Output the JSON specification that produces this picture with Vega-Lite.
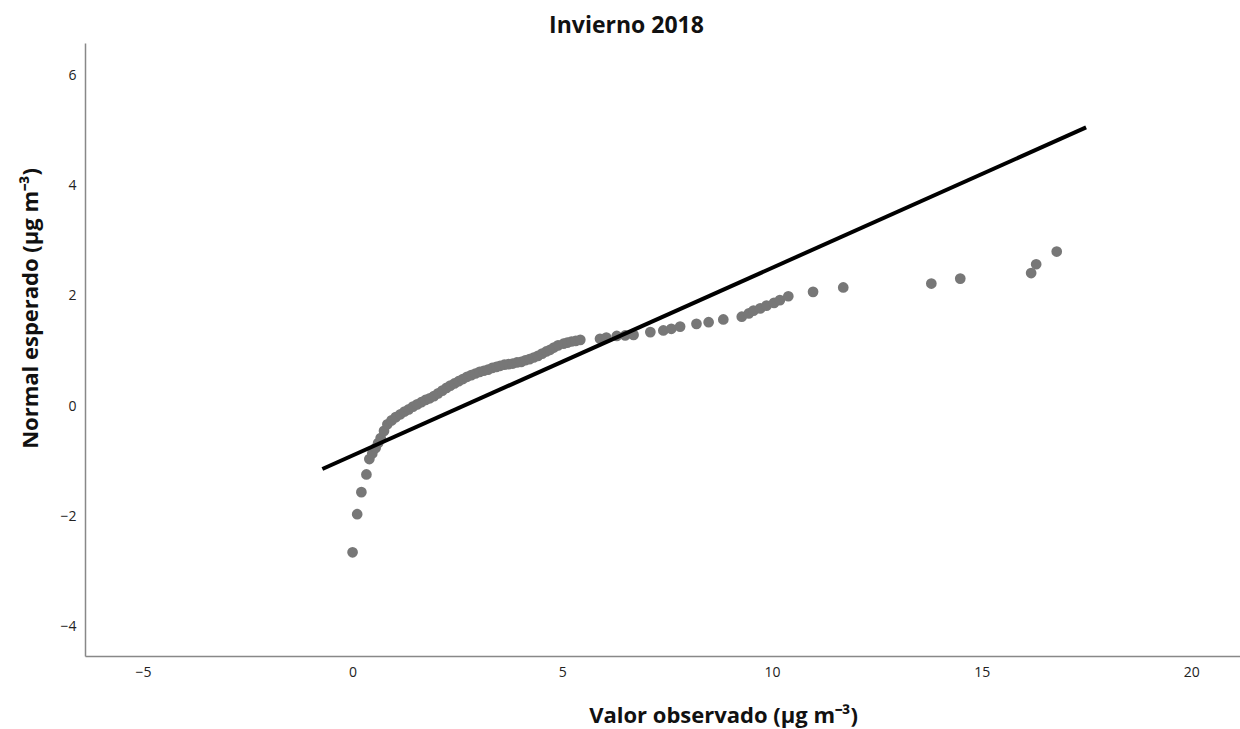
{
  "$schema": "https://vega.github.io/schema/vega-lite/v6.json",
  "width": 1155,
  "height": 613,
  "autosize": {"type": "none"},
  "padding": {"left": 85, "top": 43, "right": 0, "bottom": 73},
  "background": "white",
  "title": {
    "text": "Invierno 2018",
    "font": "Open Sans",
    "fontSize": 23,
    "fontWeight": "bold",
    "color": "#111",
    "anchor": "middle",
    "dx": -36,
    "offset": 5
  },
  "config": {
    "view": {"stroke": null},
    "axis": {
      "grid": false,
      "ticks": false,
      "domainColor": "#888",
      "domainWidth": 1.5,
      "labelFont": "Open Sans",
      "labelFontSize": 14,
      "labelColor": "#222",
      "titleFont": "Open Sans",
      "titleFontSize": 22,
      "titleFontWeight": "bold",
      "titleColor": "#111"
    }
  },
  "datasets": {
    "puntos": [
      {"obs": 0.0, "esp": -2.65},
      {"obs": 0.11, "esp": -1.96},
      {"obs": 0.21, "esp": -1.56},
      {"obs": 0.33, "esp": -1.24},
      {"obs": 0.40, "esp": -0.96},
      {"obs": 0.47, "esp": -0.86},
      {"obs": 0.55, "esp": -0.76},
      {"obs": 0.61, "esp": -0.67},
      {"obs": 0.67, "esp": -0.58},
      {"obs": 0.75, "esp": -0.45},
      {"obs": 0.83, "esp": -0.33},
      {"obs": 0.93, "esp": -0.26},
      {"obs": 1.03, "esp": -0.20},
      {"obs": 1.14, "esp": -0.15},
      {"obs": 1.24, "esp": -0.10},
      {"obs": 1.34, "esp": -0.06},
      {"obs": 1.44, "esp": -0.01},
      {"obs": 1.54, "esp": 0.03},
      {"obs": 1.64, "esp": 0.07},
      {"obs": 1.74, "esp": 0.11},
      {"obs": 1.84, "esp": 0.14},
      {"obs": 1.94, "esp": 0.18},
      {"obs": 2.04, "esp": 0.23},
      {"obs": 2.14, "esp": 0.28},
      {"obs": 2.24, "esp": 0.33},
      {"obs": 2.33, "esp": 0.37},
      {"obs": 2.43, "esp": 0.41},
      {"obs": 2.53, "esp": 0.45},
      {"obs": 2.63, "esp": 0.49},
      {"obs": 2.73, "esp": 0.53},
      {"obs": 2.83, "esp": 0.56},
      {"obs": 2.93, "esp": 0.59},
      {"obs": 3.03, "esp": 0.62},
      {"obs": 3.13, "esp": 0.64},
      {"obs": 3.23, "esp": 0.66},
      {"obs": 3.33, "esp": 0.69},
      {"obs": 3.43, "esp": 0.71},
      {"obs": 3.52, "esp": 0.73},
      {"obs": 3.62, "esp": 0.75},
      {"obs": 3.72, "esp": 0.76},
      {"obs": 3.82, "esp": 0.77},
      {"obs": 3.92, "esp": 0.79},
      {"obs": 4.02, "esp": 0.80},
      {"obs": 4.12, "esp": 0.83},
      {"obs": 4.22, "esp": 0.85},
      {"obs": 4.32, "esp": 0.88},
      {"obs": 4.42, "esp": 0.91},
      {"obs": 4.52, "esp": 0.95},
      {"obs": 4.62, "esp": 0.99},
      {"obs": 4.71, "esp": 1.02},
      {"obs": 4.80, "esp": 1.06},
      {"obs": 4.90, "esp": 1.10},
      {"obs": 5.03, "esp": 1.13},
      {"obs": 5.12, "esp": 1.15},
      {"obs": 5.22, "esp": 1.17},
      {"obs": 5.32, "esp": 1.18},
      {"obs": 5.43, "esp": 1.20},
      {"obs": 5.90, "esp": 1.22},
      {"obs": 6.05, "esp": 1.24},
      {"obs": 6.30, "esp": 1.27},
      {"obs": 6.50, "esp": 1.28},
      {"obs": 6.70, "esp": 1.29},
      {"obs": 7.10, "esp": 1.34},
      {"obs": 7.41, "esp": 1.37},
      {"obs": 7.60, "esp": 1.40},
      {"obs": 7.81, "esp": 1.44},
      {"obs": 8.20, "esp": 1.49},
      {"obs": 8.49, "esp": 1.52},
      {"obs": 8.84, "esp": 1.57},
      {"obs": 9.28, "esp": 1.62},
      {"obs": 9.45, "esp": 1.68},
      {"obs": 9.56, "esp": 1.73},
      {"obs": 9.72, "esp": 1.77},
      {"obs": 9.87, "esp": 1.82},
      {"obs": 10.05, "esp": 1.87},
      {"obs": 10.19, "esp": 1.92},
      {"obs": 10.39, "esp": 1.99},
      {"obs": 10.98, "esp": 2.07},
      {"obs": 11.70, "esp": 2.15},
      {"obs": 13.80, "esp": 2.22},
      {"obs": 14.49, "esp": 2.31},
      {"obs": 16.18, "esp": 2.41},
      {"obs": 16.30, "esp": 2.57},
      {"obs": 16.79, "esp": 2.80}
    ],
    "referencia": [
      {"obs": -0.72, "esp": -1.14},
      {"obs": 17.49, "esp": 5.05}
    ]
  },
  "layer": [
    {
      "data": {"name": "puntos"},
      "mark": {"type": "point", "filled": true, "size": 115, "color": "#777777", "opacity": 1},
      "encoding": {
        "x": {
          "field": "obs",
          "type": "quantitative",
          "scale": {"domain": [-6.38, 21.16], "nice": false, "zero": false},
          "axis": {
            "values": [-5, 0, 5, 10, 15, 20],
            "format": "d",
            "labelPadding": 9,
            "title": "Valor observado (µg m⁻³)",
            "titleX": 638,
            "titleY": 66,
            "titleAnchor": "middle",
            "titleBaseline": "alphabetic"
          }
        },
        "y": {
          "field": "esp",
          "type": "quantitative",
          "scale": {"domain": [-4.53, 6.58], "nice": false, "zero": false},
          "axis": {
            "values": [-4, -2, 0, 2, 4, 6],
            "format": "d",
            "labelPadding": 9,
            "title": "Normal esperado (µg m⁻³)",
            "titleX": -55,
            "titleY": 265,
            "titleAnchor": "middle",
            "titleBaseline": "middle"
          }
        }
      }
    },
    {
      "data": {"name": "referencia"},
      "mark": {"type": "line", "color": "#000000", "strokeWidth": 4},
      "encoding": {
        "x": {"field": "obs", "type": "quantitative"},
        "y": {"field": "esp", "type": "quantitative"}
      }
    }
  ]
}
